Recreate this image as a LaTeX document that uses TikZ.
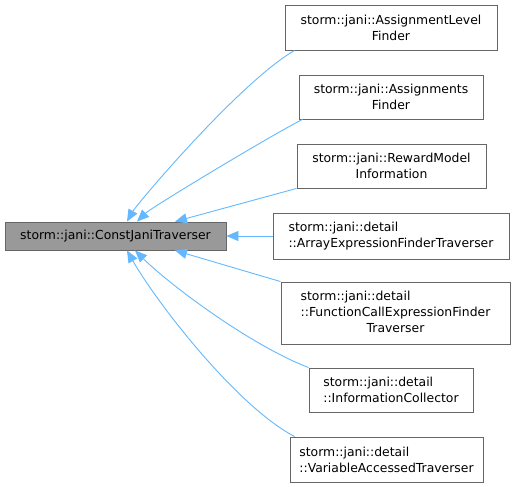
\documentclass[tikz,border=0pt]{standalone}
\usepackage{fontspec}
\setmainfont{DejaVu Sans}
\usepackage{tikz}
\usetikzlibrary{arrows.meta}

\definecolor{edgeblue}{HTML}{63B8FF}
\definecolor{boxline}{HTML}{666666}
\definecolor{basefill}{HTML}{999999}

\begin{document}
\begin{tikzpicture}[
        x=1pt, y=-1pt,
        font=\fontsize{12.4}{16}\selectfont,
        cls/.style={
            draw=boxline,
            fill=white,
            line width=0.9pt,
            align=center,
            inner sep=0pt
        },
        base/.style={
            cls,
            fill=basefill
        },
        inherit/.style={
            draw=edgeblue,
            line width=0.9pt,
            {Triangle[length=12pt,width=10pt,fill=edgeblue]}-
        }
    ]
        \useasboundingbox (0,0) rectangle (514,487);

        \node[base, minimum width=221pt, minimum height=28pt] (jtrav) at (115.5,236) {storm::jani::ConstJaniTraverser};

        \node[cls, minimum width=212pt, minimum height=45pt] (alfind) at (391,27.5) {storm::jani::AssignmentLevel\\Finder};
        \node[cls, minimum width=184pt, minimum height=44pt] (asfind) at (391,97) {storm::jani::Assignments\\Finder};
        \node[cls, minimum width=189pt, minimum height=44pt] (rminfo) at (391.5,166) {storm::jani::RewardModel\\Information};
        \node[cls, align=left, minimum width=236pt, minimum height=46pt] (arrtrav) at (391,236) {storm::jani::detail\\::ArrayExpressionFinderTraverser};
        \node[cls, minimum width=229pt, minimum height=62pt] (fctrav) at (395.5,313)
            {\begin{tabular}{@{}l@{}}storm::jani::detail\\::FunctionCallExpressionFinder\\\multicolumn{1}{@{}c@{}}{Traverser}\end{tabular}};
        \node[cls, align=left, minimum width=164pt, minimum height=44pt] (infocoll) at (391,390) {storm::jani::detail\\::InformationCollector};
        \node[cls, align=left, minimum width=193pt, minimum height=45pt] (vatrav) at (386.5,459.5) {storm::jani::detail\\::VariableAccessedTraverser};

        % derived classes point back to the base
        \draw[inherit] ([xshift=11.5pt]jtrav.north) .. controls (137,204) and (240,82) .. ([xshift=10pt]alfind.south west);
        \draw[inherit] ([xshift=21.5pt]jtrav.north) .. controls (152,207) and (275,133) .. ([xshift=4pt]asfind.south west);
        \draw[inherit] ([xshift=59.5pt]jtrav.north) -- (rminfo.south west);
        \draw[inherit] (jtrav.east) -- (arrtrav.west);
        \draw[inherit] ([xshift=59.5pt]jtrav.south) -- (fctrav.north west);
        \draw[inherit] ([xshift=19.5pt]jtrav.south) .. controls (170,285) and (250,345) .. (infocoll.north west);
        \draw[inherit] ([xshift=11.5pt]jtrav.south) .. controls (155,300) and (235,405) .. ([xshift=5pt]vatrav.north west);
    \end{tikzpicture}
\end{document}
